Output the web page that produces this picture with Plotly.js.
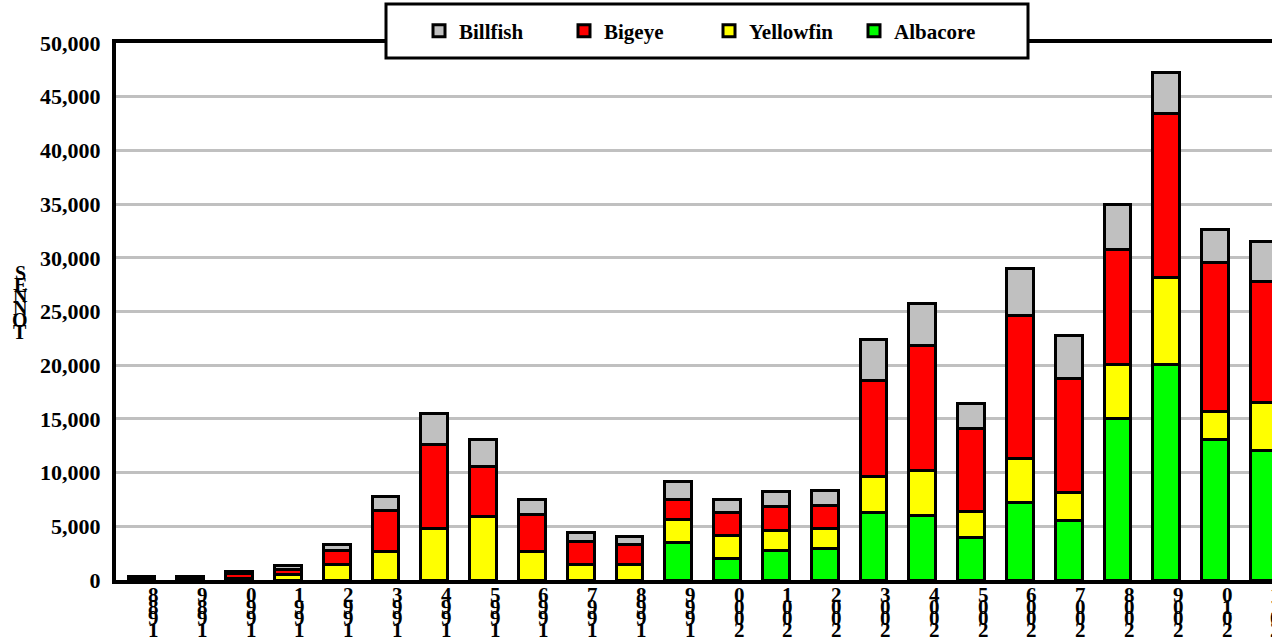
<!DOCTYPE html>
<html>
<head>
<meta charset="utf-8">
<script src="https://cdn.plot.ly/plotly-3.0.1.min.js"></script>
<style>
  html, body { margin: 0; padding: 0; background: #ffffff; }
  #chart { width: 1272px; height: 643px; }
</style>
</head>
<body>
<div id="chart"></div>
<script>
// ---- data (tonnes) ----
const years = ['1988','1989','1990','1991','1992','1993','1994','1995','1996','1997','1998','1999',
               '2000','2001','2002','2003','2004','2005','2006','2007','2008','2009','2010','2011'];
const albacore  = [0, 0, 0, 0, 0, 0, 0, 0, 0, 0, 0, 3470,
                   2000, 2730, 2890, 6270, 6050, 3970, 7200, 5530, 15050, 20110, 13040, 12040];
const yellowfin = [50, 50, 100, 470, 1490, 2700, 4750, 5900, 2700, 1400, 1400, 2180,
                   2160, 1870, 1860, 3350, 4130, 2450, 4070, 2630, 5060, 8070, 2630, 4470];
const bigeye    = [150, 150, 500, 530, 1240, 3750, 7880, 4650, 3410, 2230, 1860, 1890,
                   2140, 2230, 2230, 9000, 11640, 7700, 13400, 10560, 10680, 15210, 13880, 11270];
const billfish  = [150, 150, 150, 330, 620, 1350, 2830, 2490, 1340, 780, 770, 1610,
                   1150, 1390, 1400, 3790, 3940, 2270, 4290, 4030, 4130, 3910, 3100, 3780];
const yTicks = [0, 5000, 10000, 15000, 20000, 25000, 30000, 35000, 40000, 45000, 50000];
const yTitle = 'TONNES';

// ---- styling ----
const FONT = 'Liberation Serif, Times New Roman, serif';
const lineStyle = { color: '#000000', width: 3 };

function barTrace(name, values, color) {
  return {
    type: 'bar', name: '<b>' + name + '</b>', x: years, y: values,
    marker: { color: color, line: lineStyle },
    hoverinfo: 'x+y+name'
  };
}

const traces = [
  barTrace('Albacore', albacore, '#00ff00'),
  barTrace('Yellowfin', yellowfin, '#ffff00'),
  barTrace('Bigeye', bigeye, '#ff0000'),
  barTrace('Billfish', billfish, '#c0c0c0')
];

// plot-area geometry in pixels (used for paper conversions)
const W = 1272, H = 643, L = 116, T = 43, B = 63;
const PW = W - L, PH = H - T - B;
const px = (x) => (x - L) / PW;
const py = (y) => (H - B - y) / PH;

const annotations = [];
// x tick labels: digits stacked in reverse order (category index positions)
years.forEach(function (yr, k) {
  yr.split('').reverse().forEach(function (d, i) {
    annotations.push({
      xref: 'x', yref: 'paper', x: k, y: 0,
      xanchor: 'center', yanchor: 'middle',
      xshift: 12, yshift: -(15 + i * 11.6),
      text: '<b>' + d + '</b>', showarrow: false,
      font: { family: FONT, size: 21, color: '#000000' }
    });
  });
});
// y axis title: letters stacked in reverse order
yTitle.split('').reverse().forEach(function (c, i) {
  annotations.push({
    xref: 'paper', yref: 'paper', x: 0, y: 0,
    xanchor: 'center', yanchor: 'middle',
    xshift: -96, yshift: 307 - i * 11.7,
    text: '<b>' + c + '</b>', showarrow: false,
    font: { family: FONT, size: 20, color: '#000000' }
  });
});

const layout = {
  width: W, height: H,
  margin: { l: L, r: 0, t: T, b: B, pad: 0 },
  paper_bgcolor: '#ffffff', plot_bgcolor: '#ffffff',
  font: { family: FONT, color: '#000000' },
  barmode: 'stack',
  bargap: 0.447,
  showlegend: true,
  legend: {
    orientation: 'h', traceorder: 'reversed',
    x: px(419), xanchor: 'left', y: py(31), yanchor: 'middle',
    bgcolor: 'rgba(0,0,0,0)', borderwidth: 0,
    entrywidth: 100, entrywidthmode: 'pixels',
    font: { family: FONT, size: 21, color: '#000000' }
  },
  xaxis: {
    type: 'category',
    range: [-0.5225, 23.166],
    showticklabels: false, ticks: '',
    showline: true, linecolor: '#000000', linewidth: 4, mirror: true,
    showgrid: false, zeroline: false, fixedrange: true
  },
  yaxis: {
    range: [0, 50000],
    tickvals: yTicks,
    ticktext: yTicks.map(v => '<b>' + v.toLocaleString('en-US') + '</b>'),
    tickfont: { family: FONT, size: 22, color: '#000000' },
    ticks: '', ticklabelstandoff: 7,
    showline: true, linecolor: '#000000', linewidth: 4,
    showgrid: true, gridcolor: '#c0c0c0', gridwidth: 3,
    zeroline: false, fixedrange: true
  },
  shapes: [{
    type: 'rect', xref: 'paper', yref: 'paper', layer: 'above',
    x0: px(386), x1: px(1028), y0: py(58), y1: py(4),
    fillcolor: '#ffffff', line: { color: '#000000', width: 3 }
  }],
  annotations: annotations
};

Plotly.newPlot('chart', traces, layout, { displayModeBar: false, staticPlot: true });
</script>
</body>
</html>
